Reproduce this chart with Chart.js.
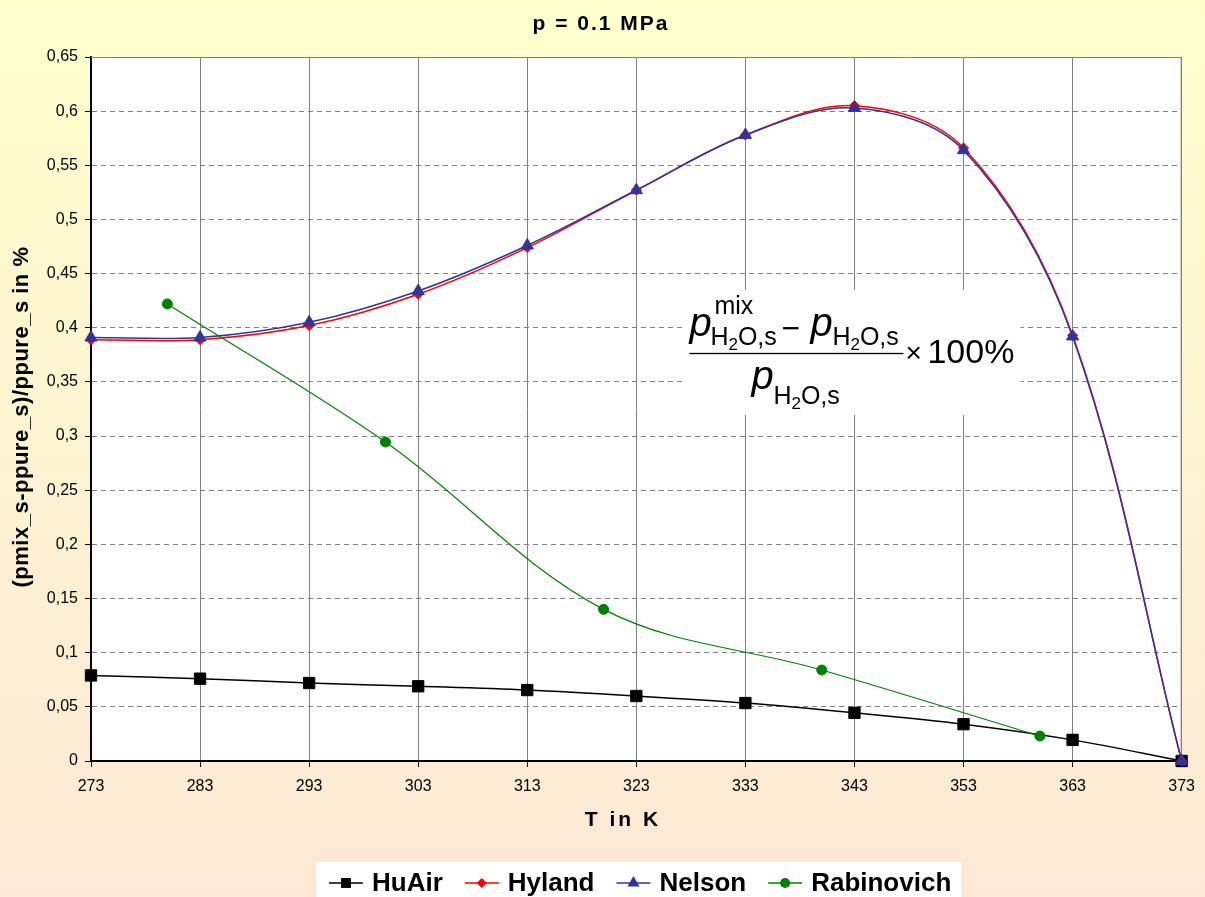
<!DOCTYPE html>
<html>
<head>
  <meta charset="UTF-8"/>
  <title>p = 0.1 MPa</title>
  <style>
    body { margin: 0; background: #fff; }
    canvas { display: block; }
  </style>
  <script src="https://cdn.jsdelivr.net/npm/chart.js"></script>
</head>
<body>
  <canvas id="myChart" width="1205" height="897"></canvas>
  <script>
    // temperatures in K
    const T = [273, 283, 293, 303, 313, 323, 333, 343, 353, 363, 373];
    const huAir = [0.079, 0.076, 0.072, 0.069, 0.0655, 0.060, 0.0535, 0.0445, 0.034, 0.0195, 0];
    const hyland = [0.389, 0.389, 0.402, 0.431, 0.474, 0.527, 0.578, 0.605, 0.566, 0.393, 0];
    const nelson = [0.391, 0.391, 0.405, 0.434, 0.476, 0.527, 0.578, 0.603, 0.564, 0.392, 0];
    const rabT = [280, 300, 320, 340, 360];
    const rabinovich = [0.422, 0.2945, 0.140, 0.084, 0.023];
    const yTicks = [0, 0.05, 0.1, 0.15, 0.2, 0.25, 0.3, 0.35, 0.4, 0.45, 0.5, 0.55, 0.6, 0.65];

    const FONT = "'Liberation Sans', Arial, sans-serif";
    Chart.defaults.font.family = FONT;

    const pts = (xs, ys) => xs.map((x, i) => ({ x: x, y: ys[i] }));

    function series(label, xs, ys, color, style, radius, order, width) {
      return {
        label: label,
        data: pts(xs, ys),
        borderColor: color,
        backgroundColor: color,
        pointBackgroundColor: color,
        pointBorderColor: color,
        pointStyle: style,
        pointRadius: radius,
        pointBorderWidth: 1,
        borderWidth: width,
        tension: 0.35,
        clip: false,
        order: order
      };
    }

    // little helper for the formula text
    function txt(ctx, s, x, y, size, italic) {
      ctx.font = (italic ? 'italic ' : '') + size + 'px ' + FONT;
      ctx.fillText(s, x, y);
      return x + ctx.measureText(s).width;
    }
    function subH2Os(ctx, x, y) {
      x = txt(ctx, 'H', x, y, 25);
      x = txt(ctx, '2', x, y + 5, 17);
      return txt(ctx, 'O,s', x, y, 25);
    }

    function marker(ctx, style, x, y, r) {
      ctx.beginPath();
      if (style === 'rect') {
        const s = r * Math.SQRT1_2;
        ctx.rect(x - s, y - s, 2 * s, 2 * s);
      } else if (style === 'rectRot') {
        ctx.moveTo(x, y - r); ctx.lineTo(x + r, y); ctx.lineTo(x, y + r); ctx.lineTo(x - r, y);
        ctx.closePath();
      } else if (style === 'triangle') {
        ctx.moveTo(x, y - r); ctx.lineTo(x + r * 0.866, y + r * 0.5); ctx.lineTo(x - r * 0.866, y + r * 0.5);
        ctx.closePath();
      } else {
        ctx.arc(x, y, r, 0, Math.PI * 2);
      }
      ctx.fill();
    }

    const deco = {
      id: 'deco',
      beforeDraw(chart) {
        const ctx = chart.ctx, ca = chart.chartArea;
        const g = ctx.createLinearGradient(0, 0, 0, chart.height);
        g.addColorStop(0, '#FFFFCC');
        g.addColorStop(1, '#FCE8D6');
        ctx.save();
        ctx.fillStyle = g;
        ctx.fillRect(0, 0, chart.width, chart.height);
        ctx.fillStyle = '#fff';
        ctx.fillRect(ca.left, ca.top, ca.right - ca.left, ca.bottom - ca.top);
        ctx.restore();
      },
      beforeDatasetsDraw(chart) {
        const ctx = chart.ctx, ca = chart.chartArea;
        const x = chart.scales.x, y = chart.scales.y;
        ctx.save();
        // top and right frame
        ctx.strokeStyle = '#808080';
        ctx.lineWidth = 1;
        ctx.beginPath();
        ctx.moveTo(ca.left, ca.top + 0.5); ctx.lineTo(ca.right - 0.5, ca.top + 0.5); ctx.lineTo(ca.right - 0.5, ca.bottom);
        ctx.stroke();

        // formula box
        const bx = x.getPixelForValue(327.5), by = y.getPixelForValue(0.435);
        ctx.fillStyle = '#fff';
        ctx.fillRect(bx, by, 335, 125);
        ctx.fillStyle = '#000';
        ctx.textBaseline = 'alphabetic';
        ctx.textAlign = 'left';
        txt(ctx, 'p', bx + 4, by + 46, 40, true);
        txt(ctx, 'mix', bx + 29, by + 24, 25);
        subH2Os(ctx, bx + 25, by + 55);
        txt(ctx, '\u2212', bx + 96, by + 49, 32);
        txt(ctx, 'p', bx + 125, by + 46, 40, true);
        subH2Os(ctx, bx + 147, by + 55);
        ctx.fillRect(bx + 4, by + 63, 214, 1.3);
        txt(ctx, '\u00d7', bx + 220, by + 72, 28);
        txt(ctx, '100%', bx + 242, by + 73, 34);
        txt(ctx, 'p', bx + 66, by + 99, 40, true);
        subH2Os(ctx, bx + 88, by + 114);
        ctx.restore();
      },
      afterDraw(chart) {
        const ctx = chart.ctx, ca = chart.chartArea;
        ctx.save();
        ctx.fillStyle = '#000';
        ctx.textBaseline = 'middle';
        ctx.textAlign = 'center';
        // titles
        ctx.font = 'bold 21px ' + FONT;
        ctx.letterSpacing = '2px';
        ctx.fillText('p = 0.1 MPa', 601, 24);
        ctx.letterSpacing = '3px';
        ctx.fillText('T in K', 623, 820);
        ctx.save();
        ctx.translate(22, 417);
        ctx.rotate(-Math.PI / 2);
        ctx.font = 'bold 22px ' + FONT;
        ctx.letterSpacing = '0.5px';
        ctx.fillText('(pmix_s-ppure_s)/ppure_s in %', 0, 0);
        ctx.restore();
        ctx.letterSpacing = '0px';

        // legend
        ctx.font = 'bold 26px ' + FONT;
        const ds = chart.data.datasets;
        let w = 0;
        ds.forEach(d => { w += 34 + 9 + ctx.measureText(d.label).width; });
        w += 22 * (ds.length - 1);
        let lx = 329;
        const ly = 883;
        ctx.fillStyle = '#fff';
        ctx.fillRect(lx - 13, 862, w + 23, 40);
        ctx.textAlign = 'left';
        ds.forEach(d => {
          ctx.strokeStyle = d.borderColor;
          ctx.fillStyle = d.borderColor;
          ctx.lineWidth = 1.5;
          ctx.beginPath();
          ctx.moveTo(lx, ly); ctx.lineTo(lx + 34, ly);
          ctx.stroke();
          marker(ctx, d.pointStyle, lx + 17, ly, d.pointStyle === 'rect' ? 7 : d.pointStyle === 'triangle' ? 7 : 5);
          ctx.fillStyle = '#000';
          ctx.fillText(d.label, lx + 43, ly + 1);
          lx += 43 + ctx.measureText(d.label).width + 22;
        });
        ctx.restore();
      }
    };

    const ctx = document.getElementById('myChart').getContext('2d');
    const chart = new Chart(ctx, {
      type: 'line',
      data: {
        datasets: [
          series('HuAir', T, huAir, '#000000', 'rect', 8, 4, 1.5),
          series('Hyland', T, hyland, '#FF0000', 'rectRot', 5, 3, 1.5),
          series('Nelson', T, nelson, '#333399', 'triangle', 7, 2, 1.5),
          series('Rabinovich', rabT, rabinovich, '#008000', 'circle', 5, 1, 1.2)
        ]
      },
      options: {
        responsive: false,
        animation: false,
        layout: { padding: { top: 57, right: 23, left: 0, bottom: 0 } },
        plugins: { legend: { display: false }, title: { display: false }, tooltip: { enabled: false } },
        scales: {
          x: {
            type: 'linear', min: 273, max: 373,
            afterBuildTicks: s => { s.ticks = T.map(v => ({ value: v })); },
            afterFit: s => { s.height = 136; },
            ticks: { color: '#000', font: { size: 16 }, padding: 10, maxRotation: 0, autoSkip: false },
            grid: { color: '#808080', tickColor: '#000', tickLength: 6 },
            border: { color: '#000', width: 2 }
          },
          y: {
            min: 0, max: 0.65,
            afterBuildTicks: s => { s.ticks = yTicks.map(v => ({ value: v })); },
            afterFit: s => { s.width = 91; },
            ticks: {
              color: '#000', font: { size: 16 }, padding: 7, autoSkip: false,
              callback: v => String(Math.round(v * 100) / 100).replace('.', ',')
            },
            grid: { color: '#808080', tickColor: '#000', tickLength: 6 },
            border: { color: '#000', width: 2, dash: [5, 4] }
          }
        }
      },
      plugins: [deco]
    });
  </script>
</body>
</html>
